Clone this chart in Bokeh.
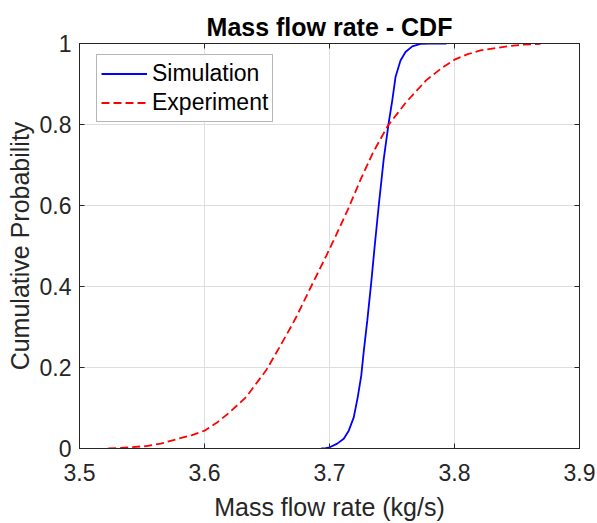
from bokeh.plotting import figure
from bokeh.models import Range1d, FixedTicker, LinearAxis, Legend, LegendItem
from bokeh.embed import file_html
from bokeh.resources import INLINE

title = "Mass flow rate - CDF"
x_label = "Mass flow rate (kg/s)"
y_label = "Cumulative Probability"
x_ticks = [3.5, 3.6, 3.7, 3.8, 3.9]
x_tick_labels = ["3.5", "3.6", "3.7", "3.8", "3.9"]
y_ticks = [0, 0.2, 0.4, 0.6, 0.8, 1.0]
y_tick_labels = ["0", "0.2", "0.4", "0.6", "0.8", "1"]

sim_x = [3.6934, 3.6970, 3.7002, 3.7062, 3.7114, 3.7154, 3.7194, 3.7226, 3.7254,
         3.7274, 3.7302, 3.7334, 3.7360, 3.7394, 3.7434, 3.7474, 3.7502, 3.7528,
         3.7568, 3.7608, 3.7662, 3.7728, 3.7800, 3.7936]
sim_y = [0.0, 0.001, 0.003, 0.012, 0.024, 0.044, 0.077, 0.127, 0.180,
         0.240, 0.315, 0.410, 0.495, 0.600, 0.715, 0.805, 0.859, 0.917,
         0.958, 0.979, 0.993, 0.999, 1.0, 1.0]

exp_x = [3.523, 3.540, 3.5536, 3.565, 3.580, 3.590, 3.600, 3.610, 3.620, 3.6333,
         3.6493, 3.660, 3.670, 3.6733, 3.6853, 3.6973, 3.705, 3.7147, 3.725, 3.7347,
         3.7467, 3.755, 3.7613, 3.7773, 3.790, 3.800, 3.810, 3.8208, 3.8421, 3.855, 3.8688]
exp_y = [0.0, 0.003, 0.006, 0.012, 0.025, 0.033, 0.044, 0.064, 0.089, 0.127,
         0.193, 0.250, 0.305, 0.324, 0.400, 0.475, 0.525, 0.590, 0.665, 0.730,
         0.797, 0.830, 0.855, 0.909, 0.940, 0.960, 0.973, 0.983, 0.993, 0.997, 0.999]

FONT = "Liberation Sans"
AX = "#262626"

p = figure(width=597, height=523, x_range=Range1d(3.5, 3.9), y_range=Range1d(0, 1),
           output_backend="svg", toolbar_location=None,
           min_border_left=79, min_border_right=18, min_border_top=43, min_border_bottom=75)

p.title.text = title
p.title.align = "center"
p.title.text_font = FONT
p.title.text_font_size = "25px"
p.title.text_font_style = "bold"
p.title.text_color = "black"
p.title.standoff = 6

p.outline_line_color = AX
p.outline_line_width = 1

for ax, ticks, labels in ((p.xaxis[0], x_ticks, x_tick_labels), (p.yaxis[0], y_ticks, y_tick_labels)):
    ax.ticker = FixedTicker(ticks=ticks)
    ax.major_label_overrides = {t: l for t, l in zip(ticks, labels)}
    ax.major_tick_in = 5
    ax.major_tick_out = 0
    ax.minor_tick_line_color = None
    ax.axis_line_color = AX
    ax.major_tick_line_color = AX
    ax.major_label_text_font = FONT
    ax.major_label_text_font_size = "23px"
    ax.major_label_text_color = AX
    ax.axis_label_text_font = FONT
    ax.axis_label_text_font_size = "25px"
    ax.axis_label_text_font_style = "normal"
    ax.axis_label_text_color = AX

p.xaxis.axis_label = x_label
p.yaxis.axis_label = y_label
p.xaxis.major_label_standoff = 15
p.xaxis.axis_label_standoff = 9
p.yaxis.major_label_standoff = 8
p.yaxis.axis_label_standoff = 3

# box ticks on top and right
top = LinearAxis(ticker=FixedTicker(ticks=x_ticks),
                 major_label_overrides={t: "" for t in x_ticks})
right = LinearAxis(ticker=FixedTicker(ticks=y_ticks),
                   major_label_overrides={t: "" for t in y_ticks})
for ax in (top, right):
    ax.major_tick_in = 5
    ax.major_tick_out = 0
    ax.minor_tick_line_color = None
    ax.axis_line_color = AX
    ax.major_tick_line_color = AX
    ax.major_label_standoff = 0
    ax.major_label_text_font_size = "1px"
p.add_layout(top, "above")
p.add_layout(right, "right")

p.xgrid.ticker = FixedTicker(ticks=x_ticks)
p.ygrid.ticker = FixedTicker(ticks=y_ticks)
p.grid.grid_line_color = "#dedede"
p.grid.grid_line_width = 1

r_sim = p.line(sim_x, sim_y, line_color="#0000ff", line_width=1.8)
r_exp = p.line(exp_x, exp_y, line_color="#ff0000", line_width=1.8, line_dash="8 4")

legend = Legend(items=[LegendItem(label="Simulation", renderers=[r_sim]),
                       LegendItem(label="Experiment", renderers=[r_exp])],
                location=(17, 405 - 13 - 66))
legend.label_text_font = FONT
legend.label_text_font_size = "23px"
legend.label_text_color = "black"
legend.glyph_width = 46
legend.glyph_height = 29
legend.label_height = 29
legend.label_standoff = 5
legend.padding = 4
legend.spacing = 0
legend.margin = 0
legend.border_line_color = "#6e6e6e"
legend.border_line_width = 1
legend.background_fill_color = "white"
legend.background_fill_alpha = 1
p.add_layout(legend, "center")

open("out.html", "w").write(file_html(p, INLINE))
